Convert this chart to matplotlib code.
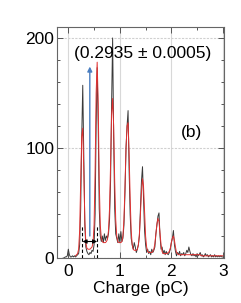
import numpy as np
import matplotlib
matplotlib.use("Agg")
import matplotlib.pyplot as plt
from matplotlib.ticker import MultipleLocator

plt.rcParams["font.family"] = ["Liberation Sans", "DejaVu Sans"]

# histogram bin centres (pC), 0.02 wide
charge = np.round(np.arange(-0.10, 3.001, 0.02), 2)

# measured counts, one value per bin
counts = [
    0, 0, 1, 1, 2, 8, 3, 1, 1, 2,            # -0.10 .. 0.08
    1, 2, 1, 2, 3, 4, 12, 45, 110, 157,      # 0.10 .. 0.28
    90, 30, 10, 6, 4, 3, 5, 4, 7, 6,         # 0.30 .. 0.48
    12, 40, 120, 173, 120, 45, 20, 15, 20, 14,   # 0.50 .. 0.68
    22, 16, 20, 18, 22, 35, 70, 140, 200, 110,   # 0.70 .. 0.88
    45, 22, 18, 14, 22, 14, 24, 15, 18, 30,      # 0.90 .. 1.08
    60, 100, 120, 134, 80, 40, 18, 12, 8, 14,    # 1.10 .. 1.28
    10, 5, 8, 12, 20, 45, 70, 83, 55, 25,        # 1.30 .. 1.48
    12, 5, 8, 4, 6, 3, 8, 5, 7, 10,              # 1.50 .. 1.68
    22, 30, 38, 41, 20, 8, 10, 4, 7, 3,          # 1.70 .. 1.88
    6, 4, 3, 5, 8, 14, 18, 25, 12, 6,            # 1.90 .. 2.08
    2, 5, 3, 6, 2, 4, 3, 5, 2, 4,                # 2.10 .. 2.28
    7, 5, 10, 6, 3, 2, 4, 2, 3, 1,               # 2.30 .. 2.48
    4, 2, 3, 5, 2, 3, 1, 2, 4, 2,                # 2.50 .. 2.68
    3, 1, 2, 3, 1, 2, 1, 3, 1, 2,                # 2.70 .. 2.88
    1, 2, 1, 2, 1, 1,                            # 2.90 .. 3.00
]

# fitted multi-photoelectron spectrum, same bin centres from 0.14 on
fit_charge = charge[12:]
fit_counts = [
    2, 3, 4, 8, 25, 70, 110, 118, 80, 35,        # 0.14 .. 0.32
    14, 9, 8, 8, 8, 9, 10, 14, 30, 80,           # 0.34 .. 0.52
    150, 178, 140, 70, 30, 18, 15, 14, 14, 14,   # 0.54 .. 0.72
    15, 17, 25, 45, 85, 130, 145, 120, 70, 35,   # 0.74 .. 0.92
    20, 15, 14, 14, 14, 15, 20, 35, 65, 100,     # 0.94 .. 1.12
    120, 123, 95, 55, 25, 12, 8, 7, 7, 7,        # 1.14 .. 1.32
    8, 12, 22, 40, 60, 72, 65, 42, 20, 10,       # 1.34 .. 1.52
    6, 5, 5, 5, 5, 6, 8, 13, 22, 31,             # 1.54 .. 1.72
    36, 33, 22, 12, 6, 4, 4, 4, 4, 4,            # 1.74 .. 1.92
    5, 6, 9, 14, 18, 20, 16, 10, 5, 4,           # 1.94 .. 2.12
    3, 3, 3, 3, 3, 3, 3, 3, 3, 3,                # 2.14 .. 2.32
    3, 3, 3, 3, 3, 3, 3, 3, 3, 3,                # 2.34 .. 2.52
    3, 3, 2, 2, 2, 2, 2, 2, 2, 2,                # 2.54 .. 2.72
    2, 2, 2, 2, 2, 2, 2, 2, 2, 2,                # 2.74 .. 2.92
    2, 2, 2, 2,                                  # 2.94 .. 3.00
]

peak_1pe = 0.275
peak_2pe = 0.56
gain_label = "(0.2935 \u00b1 0.0005)"

fig = plt.figure(figsize=(2.41, 3.03), dpi=100)
ax = fig.add_axes([0.2365, 0.1485, 0.6925, 0.7625])

ax.plot(charge, counts[:len(charge)], color="#3a3a3a", lw=0.7, zorder=2)
ax.plot(fit_charge, fit_counts[:len(fit_charge)], color="#e23030", lw=0.7,
        zorder=3)

# gain marker
ax.vlines([peak_1pe, peak_2pe], 0, 30, colors="k", linestyles=(0, (3, 2)),
          lw=0.8, zorder=4)
ax.annotate("", xy=(peak_1pe, 15), xytext=(peak_2pe, 15),
            arrowprops=dict(arrowstyle="<|-|>", color="k", lw=0.8,
                            mutation_scale=6, shrinkA=0, shrinkB=0),
            zorder=5)
ax.annotate("", xy=(0.417, 174), xytext=(0.417, 20),
            arrowprops=dict(arrowstyle="-|>", color="#4a7ec0", lw=1.0,
                            mutation_scale=7, shrinkA=0, shrinkB=0),
            zorder=5)

ax.text(1.44, 186, gain_label, ha="center", va="center", fontsize=12.5)
ax.text(2.39, 114, "(b)", ha="center", va="center", fontsize=12.5)

ax.set_xlim(-0.22, 3.02)
ax.set_ylim(0, 210)
ax.set_xticks([0, 1, 2, 3])
ax.set_yticks([0, 100, 200])
ax.xaxis.set_minor_locator(MultipleLocator(0.5))
ax.yaxis.set_minor_locator(MultipleLocator(20))
ax.tick_params(which="both", direction="in", top=True, right=True,
               labelsize=12.5, color="#555555", width=0.7)
ax.tick_params(which="major", length=4)
ax.tick_params(axis="x", which="major", pad=4)
ax.tick_params(axis="y", which="major", pad=2)
ax.tick_params(which="minor", length=2.5)
ax.xaxis.grid(True, which="major", color="#d8d8d8", lw=0.8, zorder=0)
ax.yaxis.grid(True, which="major", color="#d0d0d0", lw=0.8,
              linestyle=(0, (2, 1.2)), zorder=0)
for s in ax.spines.values():
    s.set_color("#666666")
    s.set_linewidth(0.8)

ax.set_xlabel("Charge (pC)", fontsize=12.5, labelpad=2)

fig.savefig("out.png", dpi=100)
